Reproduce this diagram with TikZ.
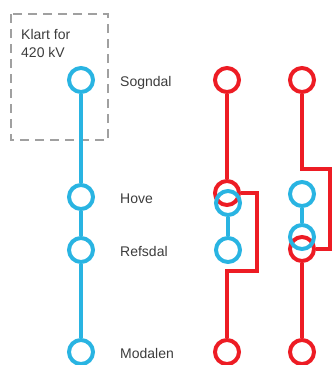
\documentclass[tikz,border=0pt]{standalone}
\usepackage{fontspec}
\setmainfont{Liberation Sans}
\definecolor{lineblue}{RGB}{41,180,226}
\definecolor{linered}{RGB}{237,28,36}
\definecolor{boxgray}{RGB}{160,160,160}
\definecolor{labelgray}{RGB}{60,60,60}

\begin{document}
\begin{tikzpicture}[x=1pt, y=-1pt,
    stop/.style={circle, draw=#1, line width=4pt, minimum size=24pt, inner sep=0pt},
    link/.style={draw=#1, line width=4pt},
    place/.style={anchor=base west, text=labelgray, font=\fontsize{14}{17}\selectfont, inner sep=0pt}]
    \useasboundingbox (0,0) rectangle (333,365);

    % Dashed box
    \draw[boxgray, line width=2pt, dash pattern=on 9pt off 6pt] (11,14) rectangle (108,140);
    \node[place] (klart) at (21,39) {Klart for};
    \node[place] (kv) at (21,57) {420 kV};

    % Blue line with stations
    \node[stop=lineblue] (sogndal) at (81,80) {};
    \node[stop=lineblue] (hove) at (81,197) {};
    \node[stop=lineblue] (refsdal) at (81,250) {};
    \node[stop=lineblue] (modalen) at (81,352) {};
    \draw[link=lineblue] (sogndal) -- (hove) -- (refsdal) -- (modalen);

    \node[place] (sogndaltext) at (120,86) {Sogndal};
    \node[place] (hovetext) at (120,203) {Hove};
    \node[place] (refsdaltext) at (120,256) {Refsdal};
    \node[place] (modalentext) at (120,358) {Modalen};

    % Middle column
    \node[stop=linered] (mtop) at (227,80) {};
    \node[stop=linered] (mhove) at (227,193) {};
    \node[stop=linered] (mbot) at (227,352) {};
    \draw[link=linered] (mtop) -- (mhove);
    \draw[link=linered] (mhove.east) -| (257,271) -| (mbot);

    \node[stop=lineblue] (mhoveb) at (228,203) {};
    \node[stop=lineblue] (mrefsdalb) at (228,250) {};
    \draw[link=lineblue] (mhoveb) -- (mrefsdalb);

    % Right column
    \node[stop=linered] (rtop) at (302,80) {};
    \node[stop=linered] (rrefsdal) at (302,249) {};
    \node[stop=linered] (rbot) at (302,352) {};
    \draw[link=linered] (rtop) |- (330,169) |- (rrefsdal);
    \draw[link=linered] (rrefsdal) -- (rbot);

    \node[stop=lineblue] (rhoveb) at (302,194) {};
    \node[stop=lineblue] (rrefsdalb) at (302,237) {};
    \draw[link=lineblue] (rhoveb) -- (rrefsdalb);
\end{tikzpicture}
\end{document}
